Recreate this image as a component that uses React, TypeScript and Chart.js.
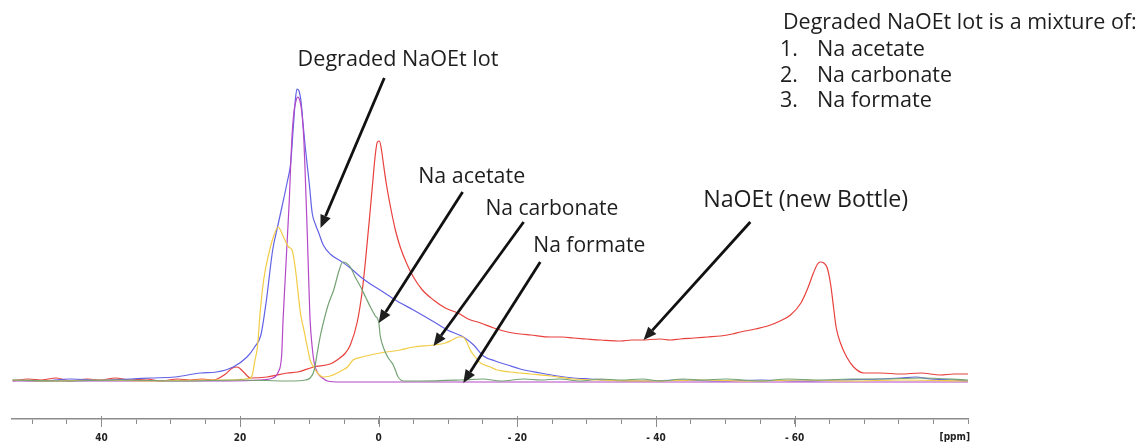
import { useEffect, useRef } from 'react';
import { Chart, registerables } from 'chart.js';

Chart.register(...registerables);

const W = 1142;
const H = 442;

// Chemical shift range in ppm (axis runs high -> low, left -> right)
const PPM_HIGH = 52.9;
const PPM_LOW = -85;
const TICK_VALUES: number[] = [];
for (let v = -85; v <= 50; v += 5) TICK_VALUES.push(v);
const LABELLED_TICKS = [40, 20, 0, -20, -40, -60];

// Intensity range (arbitrary units), 0 = spectrum baseline
const INT_MIN = -39;
const INT_MAX = 380;

// Spectra: [ppm, intensity]
const naoetNewBottle: [number, number][] = [
  [52.8, -1], [50.5, 1], [48.8, 0], [46.5, 2], [44.5, -1], [42.0, 1], [40.2, 0], [38.0, 2],
  [35.8, 0], [33.5, 1], [31.5, -1], [29.0, 1], [27.2, 0], [25.5, 1], [23.9, 0],
  [22.1, 6], [21.1, 12], [20.4, 13], [19.5, 8], [18.5, 2], [16.1, 3], [13.2, 7], [11.7, 8],
  [9.4, 13], [7.0, 16], [6.0, 20], [4.8, 27], [4.1, 35], [3.1, 58], [2.4, 88], [1.9, 120],
  [1.2, 172], [0.9, 195], [0.5, 225], [0.2, 238], [-0.1, 239], [-0.4, 230], [-0.7, 215],
  [-1.1, 196], [-1.7, 173], [-2.4, 150], [-3.1, 133], [-4.0, 117], [-5.0, 103], [-6.3, 90],
  [-7.9, 80], [-9.6, 72], [-11.4, 67], [-12.9, 61], [-14.7, 57], [-16.6, 52], [-18.6, 48],
  [-20.4, 46], [-21.9, 45], [-24.8, 43], [-26.5, 43], [-28.1, 42], [-30.0, 41], [-32.0, 40],
  [-34.9, 39], [-36.5, 40], [-37.8, 40], [-40.6, 41], [-42.0, 40], [-43.5, 41], [-45.5, 42],
  [-47.4, 43], [-49.3, 44], [-51.0, 46], [-52.2, 48], [-54.3, 51], [-56.1, 54], [-57.9, 59],
  [-59.4, 65], [-60.9, 77], [-61.9, 92], [-62.7, 107], [-63.3, 116], [-63.7, 118], [-64.2, 117],
  [-64.7, 112], [-65.2, 95], [-65.6, 73], [-66.0, 52], [-66.6, 37], [-67.5, 23], [-68.5, 13],
  [-70.0, 7], [-72.4, 7], [-75.3, 6], [-78.2, 7], [-81.0, 5], [-83.0, 6], [-85, 6],
];

const degradedLot: [number, number][] = [
  [52.8, 0], [48.8, -1], [44.5, 1], [40.2, 0], [35.8, 1], [32.9, 2], [29.4, 3], [25.7, 7],
  [23.4, 8], [21.0, 13], [19.0, 23], [17.9, 33], [17.0, 45], [16.2, 80], [15.3, 130],
  [14.6, 153], [13.9, 175], [13.2, 198], [12.7, 217], [12.3, 255], [12.0, 282], [11.8, 291],
  [11.5, 289], [11.2, 278], [10.9, 255], [10.6, 233], [10.0, 195], [9.6, 167], [9.1, 155],
  [8.7, 148], [8.0, 135], [7.0, 126], [5.5, 119], [4.1, 112], [2.6, 103], [1.2, 96],
  [-0.2, 90], [-2.4, 80], [-5.0, 70], [-7.5, 60], [-9.9, 50], [-12.2, 43], [-13.7, 35],
  [-15.1, 24], [-16.8, 19], [-18.6, 15], [-20.4, 11], [-23.3, 7], [-25.8, 4], [-28.1, 2],
  [-30.5, 1], [-33.0, 0], [-37.8, -1], [-43.5, 0], [-49.3, -1], [-55.1, 0], [-60.9, -1],
  [-66.6, 0], [-72.4, 1], [-75.3, 2], [-77.4, 3], [-79.6, 1], [-82.5, 0], [-85, -1],
];

const naFormate: [number, number][] = [
  [52.8, -1], [45.9, -1], [37.3, -1], [28.6, -1], [21.4, -1], [17.1, 0], [15.3, 2], [14.5, 8],
  [14.0, 25], [13.8, 60], [13.5, 100], [13.2, 140], [12.9, 180], [12.7, 215], [12.5, 245],
  [12.2, 270], [11.9, 280], [11.7, 283], [11.4, 280], [11.1, 268], [10.8, 240], [10.6, 205],
  [10.3, 145], [10.1, 100], [9.9, 60], [9.6, 33], [9.3, 17], [8.8, 7], [8.1, 2], [7.4, -1],
  [5.5, -2], [-3.1, -2], [-17.6, -2], [-32.0, -2], [-46.4, -2], [-60.9, -2], [-75.3, -2], [-85, -2],
];

const naCarbonate: [number, number][] = [
  [52.8, 0], [47.4, -1], [40.2, 0], [32.9, -1], [25.7, 0], [21.4, 0], [19.2, 1], [18.5, 2],
  [18.2, 6], [17.9, 18], [17.5, 33], [17.1, 68], [16.6, 100], [15.9, 125], [15.2, 143],
  [14.5, 153], [13.8, 144], [13.0, 133], [12.5, 130], [12.0, 110], [11.6, 85], [11.3, 67],
  [10.7, 47], [10.3, 33], [9.9, 20], [9.4, 13], [8.7, 6], [8.0, 3], [7.0, 4], [6.0, 7],
  [5.2, 10], [4.5, 13], [3.7, 20], [2.4, 23], [-0.2, 27], [-3.1, 30], [-5.0, 33], [-7.9, 35],
  [-9.6, 37], [-10.6, 40], [-11.5, 43], [-12.1, 43], [-12.7, 38], [-13.2, 30], [-13.9, 23],
  [-14.7, 17], [-16.1, 13], [-17.1, 10], [-19.0, 8], [-21.9, 6], [-24.8, 4], [-28.1, 1],
  [-32.0, 0], [-39.2, -1], [-46.4, 0], [-53.6, -1], [-60.9, 0], [-68.1, -1], [-75.3, 0], [-85, -1],
];

const naAcetate: [number, number][] = [
  [52.8, 0], [45.9, -1], [37.3, 0], [28.6, -1], [20.0, 0], [12.7, -1], [10.6, 0], [9.9, 2],
  [9.3, 10], [8.8, 30], [8.4, 45], [8.0, 57], [7.3, 75], [6.5, 90], [5.7, 110], [5.2, 118],
  [4.7, 117], [4.1, 113], [3.4, 103], [2.6, 93], [1.9, 83], [1.2, 73], [0.5, 64], [0.0, 58],
  [-0.2, 45], [-0.7, 32], [-1.3, 23], [-1.7, 19], [-2.1, 15], [-2.5, 8], [-2.8, 3], [-3.6, -1],
  [-6.0, -1], [-11.8, 0], [-15.0, 1], [-17.6, -1], [-21.0, 1], [-23.3, 0], [-26.0, 1],
  [-29.1, -1], [-32.0, 1], [-34.9, 0], [-38.0, 1], [-40.6, -1], [-44.0, 1], [-46.4, 0],
  [-50.0, 1], [-55.1, -1], [-59.0, 1], [-63.7, 0], [-68.0, 1], [-72.4, 1], [-78.2, 2], [-85, 0],
];

const SERIES = [
  { label: 'Na acetate', points: naAcetate, color: '#74a374' },
  { label: 'Na carbonate', points: naCarbonate, color: '#f2cc45' },
  { label: 'Na formate', points: naFormate, color: '#b448c8' },
  { label: 'Degraded NaOEt lot', points: degradedLot, color: '#6262e6' },
  { label: 'NaOEt (new Bottle)', points: naoetNewBottle, color: '#e8403c' },
];

// Callouts: label anchored in data units, arrow from tail to head in data units
const CALLOUTS = [
  { text: 'Degraded NaOEt lot', ppm: 11.7, base: 314, width: 201, from: [-0.8, 302], to: [8.4, 152] },
  { text: 'Na acetate', ppm: -5.7, base: 197, width: 107, from: [-12.1, 188], to: [0.0, 57] },
  { text: 'Na carbonate', ppm: -15.4, base: 165, width: 133, from: [-20.9, 158], to: [-7.9, 34] },
  { text: 'Na formate', ppm: -22.3, base: 128, width: 112, from: [-23.3, 118], to: [-12.2, -3] },
  { text: 'NaOEt (new Bottle)', ppm: -46.8, base: 173, width: 205, from: [-53.6, 158], to: [-38.2, 40] },
];

const NOTE_TITLE = 'Degraded NaOEt lot is a mixture of:';
const NOTE_ITEMS = ['Na acetate', 'Na carbonate', 'Na formate'];
const NOTE_ITEM_WIDTHS = [108, 135, 115];

const TEXT_FONT = '"Open Sans", "Noto Sans", sans-serif';
const AXIS_FONT = '"Liberation Sans Narrow", "DejaVu Sans Condensed", "Liberation Sans", sans-serif';
const AXIS_COLOR = '#8c8c8c';

function fittedText(ctx: CanvasRenderingContext2D, text: string, x: number, baseline: number, width: number) {
  ctx.font = `20px ${TEXT_FONT}`;
  const w = ctx.measureText(text).width;
  const size = (20 * width) / w;
  ctx.font = `${size}px ${TEXT_FONT}`;
  ctx.textAlign = 'left';
  ctx.textBaseline = 'alphabetic';
  ctx.fillText(text, x, baseline);
  return size;
}

function arrow(ctx: CanvasRenderingContext2D, x0: number, y0: number, x1: number, y1: number) {
  const a = Math.atan2(y1 - y0, x1 - x0);
  const head = 13;
  const half = 5.5;
  const bx = x1 - head * Math.cos(a);
  const by = y1 - head * Math.sin(a);
  ctx.lineWidth = 2.8;
  ctx.lineCap = 'butt';
  ctx.beginPath();
  ctx.moveTo(x0, y0);
  ctx.lineTo(bx, by);
  ctx.stroke();
  ctx.beginPath();
  ctx.moveTo(x1, y1);
  ctx.lineTo(bx + half * Math.sin(a), by - half * Math.cos(a));
  ctx.lineTo(bx - half * Math.sin(a), by + half * Math.cos(a));
  ctx.closePath();
  ctx.fill();
}

const annotationPlugin = {
  id: 'spectrumAnnotations',
  afterDraw(chart: any) {
    const { ctx } = chart;
    const xs = chart.scales.x;
    const ys = chart.scales.y;
    ctx.save();

    // Longer marks at the labelled shifts
    ctx.strokeStyle = AXIS_COLOR;
    ctx.lineWidth = 1;
    for (const v of LABELLED_TICKS) {
      const px = Math.round(xs.getPixelForValue(v)) + 0.5;
      ctx.beginPath();
      ctx.moveTo(px, xs.top - 3);
      ctx.lineTo(px, xs.top + 8);
      ctx.stroke();
    }

    ctx.fillStyle = '#1e1e1e';
    ctx.strokeStyle = '#111';
    for (const c of CALLOUTS) {
      fittedText(ctx, c.text, xs.getPixelForValue(c.ppm), ys.getPixelForValue(c.base), c.width);
      arrow(
        ctx,
        xs.getPixelForValue(c.from[0]), ys.getPixelForValue(c.from[1]),
        xs.getPixelForValue(c.to[0]), ys.getPixelForValue(c.to[1]),
      );
    }

    // Summary note, top right
    const size = fittedText(ctx, NOTE_TITLE, 783, 29, 354);
    const rows = [56, 82, 107];
    NOTE_ITEMS.forEach((item, i) => {
      ctx.font = `${size}px ${TEXT_FONT}`;
      ctx.fillText(`${i + 1}.`, 780, rows[i]);
      fittedText(ctx, item, 817, rows[i], NOTE_ITEM_WIDTHS[i]);
    });

    // Unit label at the end of the shift axis
    ctx.font = `bold 10px ${AXIS_FONT}`;
    ctx.fillStyle = '#222';
    ctx.textAlign = 'right';
    ctx.textBaseline = 'top';
    ctx.fillText('[ppm]', xs.right + 2, xs.top + 13);
    ctx.restore();
  },
};

export default function App() {
  const ref = useRef<HTMLCanvasElement>(null);

  useEffect(() => {
    const canvas = ref.current;
    if (!canvas) return;
    const chart = new Chart(canvas, {
      type: 'line',
      data: {
        datasets: SERIES.map((s) => ({
          label: s.label,
          data: s.points.map(([x, y]) => ({ x, y })),
          borderColor: s.color,
          borderWidth: 1.2,
          pointRadius: 0,
          fill: false,
          cubicInterpolationMode: 'monotone' as const,
        })),
      },
      options: {
        animation: false,
        responsive: false,
        maintainAspectRatio: false,
        layout: { padding: { left: 12, right: 174, top: 0, bottom: 0 } },
        plugins: { legend: { display: false }, tooltip: { enabled: false } },
        scales: {
          x: {
            type: 'linear',
            reverse: true,
            min: PPM_LOW,
            max: PPM_HIGH,
            afterBuildTicks: (scale: any) => {
              scale.ticks = TICK_VALUES.map((value) => ({ value }));
            },
            afterFit: (scale: any) => {
              scale.height = 23;
            },
            grid: {
              drawOnChartArea: false,
              drawTicks: true,
              tickLength: 5,
              color: AXIS_COLOR,
              lineWidth: 1,
            },
            border: { display: true, color: AXIS_COLOR, width: 1.5 },
            ticks: {
              autoSkip: false,
              maxRotation: 0,
              padding: 8,
              color: '#222',
              font: { family: AXIS_FONT, size: 10, weight: 'bold' },
              callback: (v: any) => {
                const n = Number(v);
                if (!LABELLED_TICKS.includes(n)) return '';
                return n < 0 ? `- ${Math.abs(n)}` : `${n}`;
              },
            },
          },
          y: { display: false, min: INT_MIN, max: INT_MAX },
        },
      },
      plugins: [annotationPlugin],
    } as any);
    return () => chart.destroy();
  }, []);

  return (
    <div style={{ position: 'fixed', left: 0, top: 0, width: W, height: H, background: '#fff' }}>
      <canvas ref={ref} width={W} height={H} style={{ display: 'block', width: W, height: H }} />
    </div>
  );
}
